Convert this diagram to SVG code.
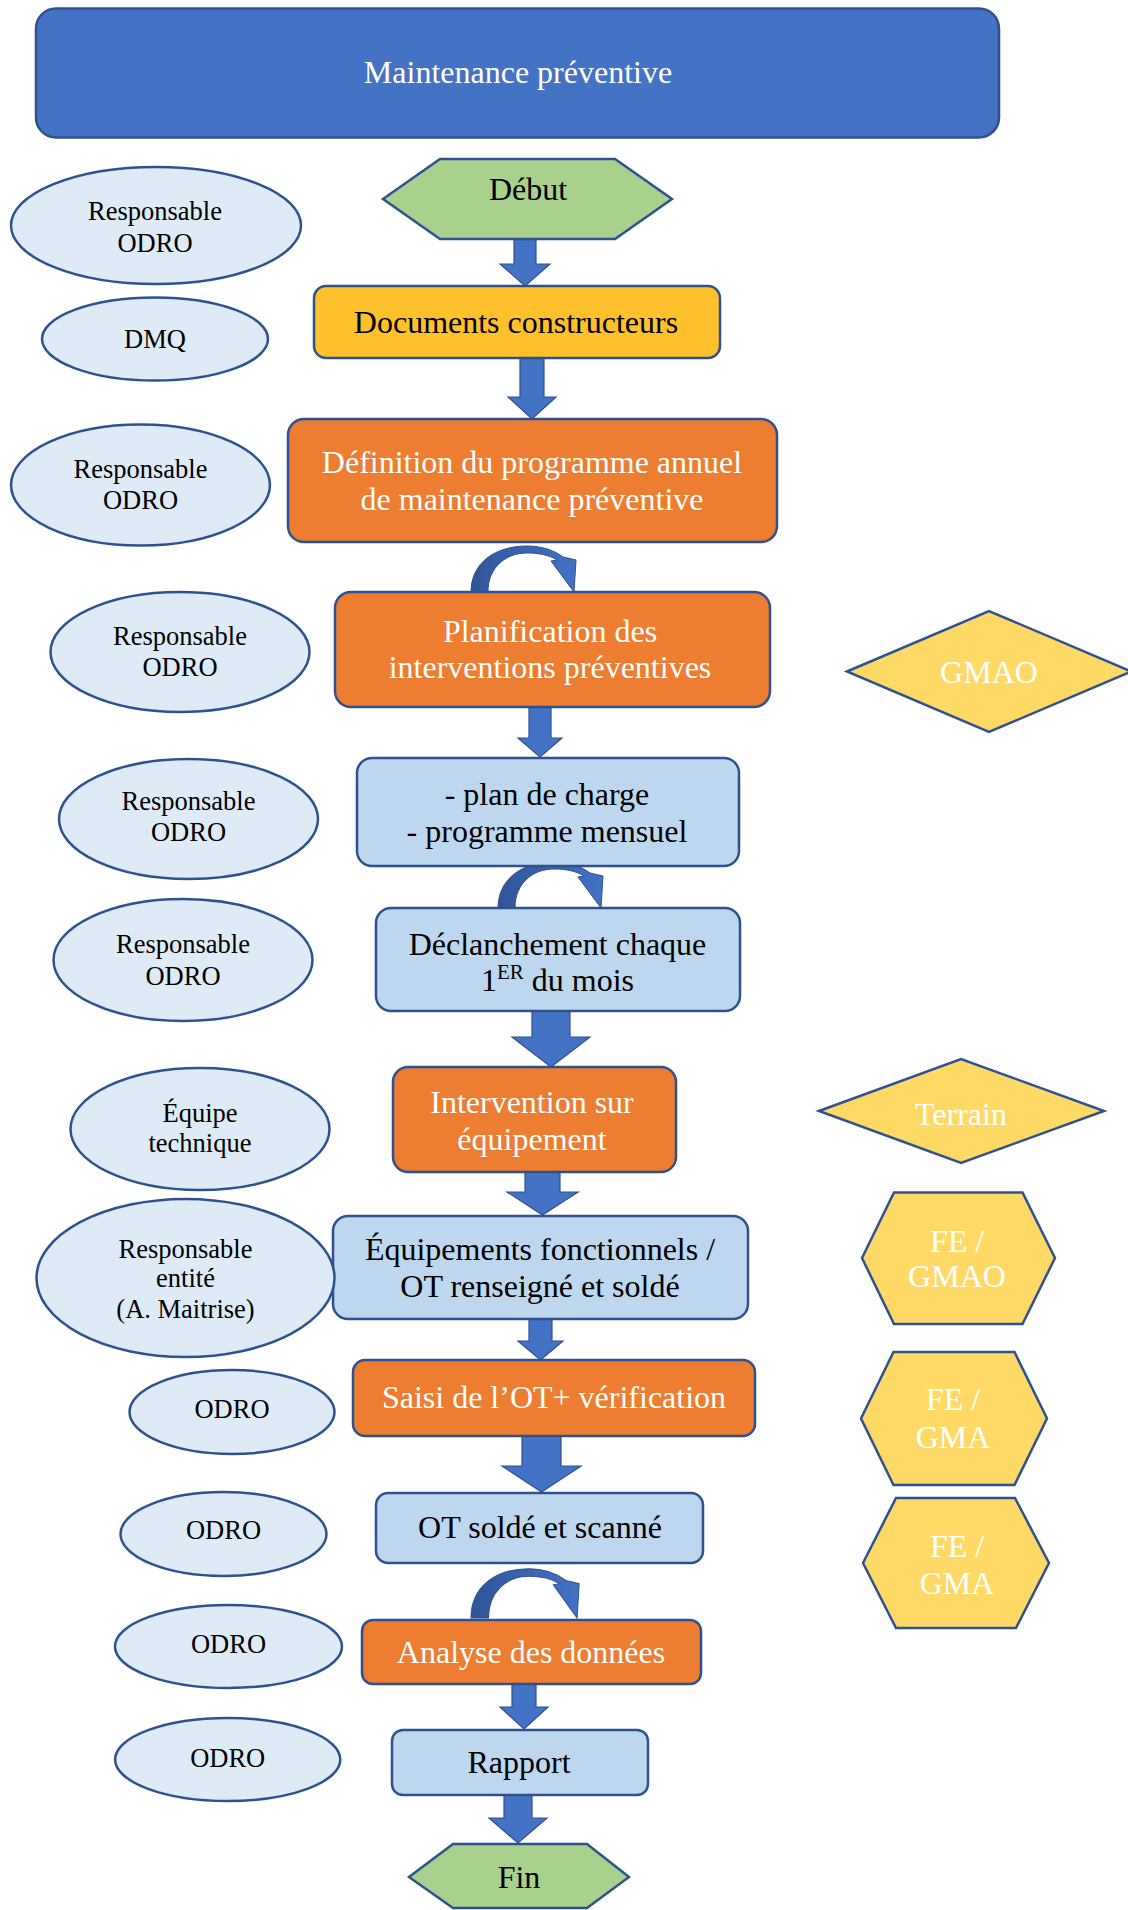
<svg xmlns="http://www.w3.org/2000/svg" width="1128" height="1910" viewBox="0 0 1128 1910">
  <style>
    text { font-family: "Liberation Serif", "Times New Roman", serif; text-anchor: middle; fill: #000; }
    .t { font-size: 32px; }
    .ts { font-size: 26.5px; }
    .w { fill: #fff; }
    .box { stroke: #2F528F; stroke-width: 2.5; }
    .title { fill: #4472C4; }
    .orange { fill: #ED7D31; }
    .blue { fill: #BDD7EE; }
    .gold { fill: #FFC12B; }
    .green { fill: #A9D18E; stroke: #2F528F; stroke-width: 2.5; }
    .ell { fill: #DEEBF7; stroke: #2F528F; stroke-width: 2.5; }
    .tag { fill: #FFD966; stroke: #2F528F; stroke-width: 2.5; }
    .arr { fill: #4472C4; stroke: #2F528F; stroke-width: 1.2; }
  </style>
  <defs>
    <linearGradient id="loopFill" x1="0" y1="0" x2="1" y2="0">
      <stop offset="0" stop-color="#2F5597"/>
      <stop offset="0.5" stop-color="#3A64B2"/>
      <stop offset="1" stop-color="#4472C4"/>
    </linearGradient>
    <!-- curved loop arrow, origin at the outer foot on the left -->
    <path id="loop" d="M 0 0 C 0 -29 24 -46 56 -46 C 72 -46 84 -41 92 -35 L 105 -32 L 103 0 L 80 -31 L 86 -32 C 78 -37 68 -39 56 -39 C 35 -39 17 -25 17 0 Z" fill="url(#loopFill)" stroke="#2F528F" stroke-width="1"/>
  </defs>

  <!-- title banner -->
  <g id="title">
    <rect class="box title" x="36" y="8.5" width="963" height="129" rx="20"/>
    <text class="t w" x="518" y="83">Maintenance préventive</text>
  </g>

  <!-- connectors -->
  <g id="connectors">
    <polygon class="arr" points="514,238 536,238 536,264 550,264 525,286 500,264 514,264"/>
    <polygon class="arr" points="520,358 544,358 544,397 556,397 532,419 508,397 520,397"/>
    <polygon class="arr" points="529,707 551,707 551,738 562,738 540,757 518,738 529,738"/>
    <polygon class="arr" points="532,1011 570,1011 570,1037 590,1037 551,1067 512,1037 532,1037"/>
    <polygon class="arr" points="525,1172 560,1172 560,1192 578,1192 542.5,1215 507,1192 525,1192"/>
    <polygon class="arr" points="529,1319 552,1319 552,1341 563,1341 540.5,1360 518,1341 529,1341"/>
    <polygon class="arr" points="522,1436 561,1436 561,1466 581,1466 541.5,1492 502,1466 522,1466"/>
    <polygon class="arr" points="512,1684 536,1684 536,1707 548,1707 524,1729 500,1707 512,1707"/>
    <polygon class="arr" points="504,1795 532,1795 532,1818 547,1818 518,1843 489,1818 504,1818"/>
    <use href="#loop" x="471" y="592"/>
    <use href="#loop" x="498" y="908"/>
    <use href="#loop" transform="translate(471 1618) scale(1.03 1.07)"/>
  </g>

  <!-- main flow -->
  <g id="debut">
    <polygon class="green" points="383,199 440,159 615,159 672,199 615,239 440,239"/>
    <text class="t" x="528" y="200">Début</text>
  </g>
  <g id="documents">
    <rect class="box gold" x="314" y="286" width="406" height="72" rx="12"/>
    <text class="t" x="516" y="333">Documents constructeurs</text>
  </g>
  <g id="definition">
    <rect class="box orange" x="288" y="419" width="489" height="123" rx="16"/>
    <text class="t w" x="532" y="473">Définition du programme annuel</text>
    <text class="t w" x="532" y="510">de maintenance préventive</text>
  </g>
  <g id="planification">
    <rect class="box orange" x="335" y="592" width="435" height="115" rx="16"/>
    <text class="t w" x="550" y="642">Planification des</text>
    <text class="t w" x="550" y="678">interventions préventives</text>
  </g>
  <g id="plan-charge">
    <rect class="box blue" x="357" y="758" width="382" height="108" rx="15"/>
    <text class="t" x="547" y="805">- plan de charge</text>
    <text class="t" x="547" y="842">- programme mensuel</text>
  </g>
  <g id="declanchement">
    <rect class="box blue" x="376" y="908" width="364" height="103" rx="15"/>
    <text class="t" x="557.5" y="955">Déclanchement chaque</text>
    <text class="t" x="557.5" y="991">1<tspan font-size="21" dy="-12">ER</tspan><tspan dy="12"> du mois</tspan></text>
  </g>
  <g id="intervention">
    <rect class="box orange" x="393" y="1067" width="283" height="105" rx="15"/>
    <text class="t w" x="532" y="1113">Intervention sur</text>
    <text class="t w" x="532" y="1150">équipement</text>
  </g>
  <g id="equipements">
    <rect class="box blue" x="333" y="1216" width="415" height="103" rx="15"/>
    <text class="t" x="540" y="1260">Équipements fonctionnels /</text>
    <text class="t" x="540" y="1297">OT renseigné et soldé</text>
  </g>
  <g id="saisi">
    <rect class="box orange" x="353" y="1360" width="402" height="76" rx="12"/>
    <text class="t w" x="554" y="1408">Saisi de l’OT+ vérification</text>
  </g>
  <g id="ot-solde">
    <rect class="box blue" x="376" y="1493" width="327" height="70" rx="12"/>
    <text class="t" x="540" y="1538">OT soldé et scanné</text>
  </g>
  <g id="analyse">
    <rect class="box orange" x="362" y="1620" width="339" height="64" rx="11"/>
    <text class="t w" x="531" y="1663">Analyse des données</text>
  </g>
  <g id="rapport">
    <rect class="box blue" x="392" y="1730" width="256" height="65" rx="11"/>
    <text class="t" x="519" y="1773">Rapport</text>
  </g>
  <g id="fin">
    <polygon class="green" points="409,1877 453,1844 587,1844 629,1877 587,1908 453,1908"/>
    <text class="t" x="519" y="1888">Fin</text>
  </g>

  <!-- actors -->
  <g id="actor-1">
    <ellipse class="ell" cx="156" cy="225.5" rx="145" ry="58.5"/>
    <text class="ts" x="155" y="220">Responsable</text>
    <text class="ts" x="155" y="252">ODRO</text>
  </g>
  <g id="actor-2">
    <ellipse class="ell" cx="155" cy="339" rx="113" ry="41.5"/>
    <text class="ts" x="155" y="348">DMQ</text>
  </g>
  <g id="actor-3">
    <ellipse class="ell" cx="140.5" cy="485" rx="129.5" ry="60.5"/>
    <text class="ts" x="140.5" y="478">Responsable</text>
    <text class="ts" x="140.5" y="509">ODRO</text>
  </g>
  <g id="actor-4">
    <ellipse class="ell" cx="180" cy="652" rx="129.5" ry="60"/>
    <text class="ts" x="180" y="645">Responsable</text>
    <text class="ts" x="180" y="676">ODRO</text>
  </g>
  <g id="actor-5">
    <ellipse class="ell" cx="188.5" cy="819" rx="129.5" ry="60"/>
    <text class="ts" x="188.5" y="810">Responsable</text>
    <text class="ts" x="188.5" y="841">ODRO</text>
  </g>
  <g id="actor-6">
    <ellipse class="ell" cx="183" cy="960" rx="129.5" ry="61"/>
    <text class="ts" x="183" y="953">Responsable</text>
    <text class="ts" x="183" y="985">ODRO</text>
  </g>
  <g id="actor-7">
    <ellipse class="ell" cx="200" cy="1129" rx="129.5" ry="61"/>
    <text class="ts" x="200" y="1122">Équipe</text>
    <text class="ts" x="200" y="1152">technique</text>
  </g>
  <g id="actor-8">
    <ellipse class="ell" cx="185.5" cy="1278" rx="149" ry="79"/>
    <text class="ts" x="185.5" y="1258">Responsable</text>
    <text class="ts" x="185.5" y="1287">entité</text>
    <text class="ts" x="185.5" y="1318">(A. Maitrise)</text>
  </g>
  <g id="actor-9">
    <ellipse class="ell" cx="232" cy="1412" rx="102.5" ry="42"/>
    <text class="ts" x="232" y="1418">ODRO</text>
  </g>
  <g id="actor-10">
    <ellipse class="ell" cx="223.5" cy="1534" rx="103" ry="42"/>
    <text class="ts" x="223.5" y="1539">ODRO</text>
  </g>
  <g id="actor-11">
    <ellipse class="ell" cx="228.5" cy="1646.5" rx="113.5" ry="41.5"/>
    <text class="ts" x="228.5" y="1653">ODRO</text>
  </g>
  <g id="actor-12">
    <ellipse class="ell" cx="227.7" cy="1759.5" rx="112.6" ry="41.5"/>
    <text class="ts" x="227.7" y="1767">ODRO</text>
  </g>

  <!-- tools / supports -->
  <g id="tool-gmao">
    <polygon class="tag" points="847,671.5 989,611 1131,671.5 989,732"/>
    <text class="t w" x="989" y="683">GMAO</text>
  </g>
  <g id="tool-terrain">
    <polygon class="tag" points="819,1111 961,1059 1104,1111 961,1163"/>
    <text class="t w" x="961" y="1125">Terrain</text>
  </g>
  <g id="tool-fe-gmao">
    <polygon class="tag" points="862,1258 894,1192.5 1022.5,1192.5 1055,1258 1022.5,1324 894,1324"/>
    <text class="t w" x="957" y="1252">FE /</text>
    <text class="t w" x="957" y="1287">GMAO</text>
  </g>
  <g id="tool-fe-gma-1">
    <polygon class="tag" points="861,1418.5 893.5,1352 1014.5,1352 1047,1418.5 1014.5,1485 893.5,1485"/>
    <text class="t w" x="953" y="1410">FE /</text>
    <text class="t w" x="953" y="1448">GMA</text>
  </g>
  <g id="tool-fe-gma-2">
    <polygon class="tag" points="863,1563 896,1498 1015,1498 1049,1563 1016,1628 896,1628"/>
    <text class="t w" x="957" y="1557">FE /</text>
    <text class="t w" x="957" y="1594">GMA</text>
  </g>
</svg>
